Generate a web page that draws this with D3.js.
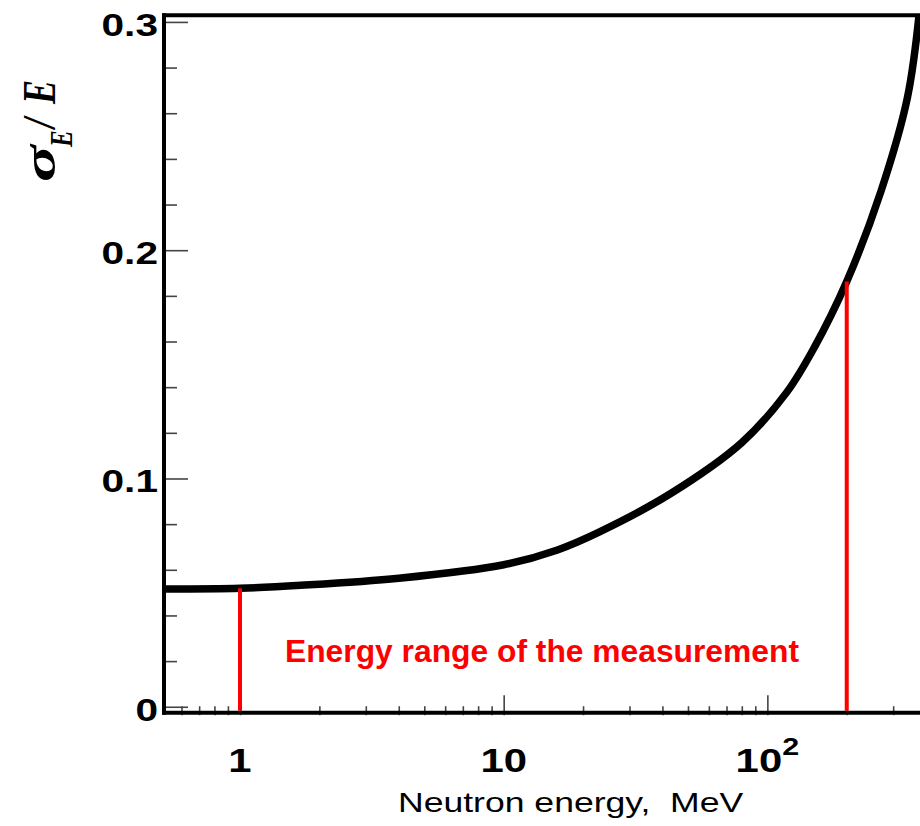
<!DOCTYPE html>
<html>
<head>
<meta charset="utf-8">
<script src="https://cdn.jsdelivr.net/npm/d3@7"></script>
<style>
  body { margin: 0; background: #fff; }
</style>
</head>
<body>
<div id="chart"></div>
<script>
// values
const energyMeV = [0.52, 1, 1.7, 4, 10, 16, 23, 43, 80, 118, 150, 200, 270, 340, 380]
const sigmaOverE = [0.0516, 0.0519, 0.0532, 0.0563, 0.0622, 0.0687, 0.0765, 0.0934, 0.1157, 0.1375, 0.1570, 0.1863, 0.2260, 0.2670, 0.3080]
const measureRange = [1, 200]

const yMajorTicks = [0, 0.1, 0.2, 0.3]
const yMinorTicks = [0.02, 0.04, 0.06, 0.08, 0.12, 0.14, 0.16, 0.18, 0.22, 0.24, 0.26, 0.28]
const yTickLabels = ['0', '0.1', '0.2', '0.3']
const xMajorTicks = [1, 10, 100]
const xMinorTicks = [0.6, 0.7, 0.8, 0.9, 2, 3, 4, 5, 6, 7, 8, 9, 20, 30, 40, 50, 60, 70, 80, 90, 200, 300, 400]

const width = 920
const height = 826
const stretch = 1.27 // the original picture is widened horizontally

const svg = d3.select('#chart').append('svg')
  .attr('xmlns', 'http://www.w3.org/2000/svg')
  .attr('width', width)
  .attr('height', height)
  .style('background', '#fff')

const x = d3.scaleLog().domain([0.515, 450]).range([164, 939.6])
const y = d3.scaleLinear().domain([-0.0026, 0.3029]).range([712.7, 15.3])

const [x0, x1] = x.range()
const [yb, yt] = y.range()

svg.append('clipPath').attr('id', 'plot-clip')
  .append('rect').attr('x', x0).attr('y', yt).attr('width', x1 - x0).attr('height', yb - yt)

// y ticks (inside, pointing right)
const tickStyle = (g) => {
  g.select('.domain').remove()
  g.selectAll('.tick line').attr('stroke', '#444').attr('stroke-width', 1.6)
  g.selectAll('.tick text').remove()
}
svg.append('g').attr('transform', `translate(${x0},0)`)
  .call(d3.axisRight(y).tickValues(yMinorTicks).tickSize(13)).call(tickStyle)
svg.append('g').attr('transform', `translate(${x0},0)`)
  .call(d3.axisRight(y).tickValues(yMajorTicks).tickSize(24)).call(tickStyle)

// x ticks (inside, pointing up)
svg.append('g').attr('transform', `translate(0,${yb + 2.5})`)
  .call(d3.axisTop(x).tickValues(xMinorTicks).tickSize(9)).call(tickStyle)
svg.append('g').attr('transform', `translate(0,${yb + 2.5})`)
  .call(d3.axisTop(x).tickValues(xMajorTicks).tickSize(20)).call(tickStyle)

// curve
const line = d3.line()
  .x((d, i) => x(energyMeV[i]))
  .y((d) => y(d))
  .curve(d3.curveCatmullRom.alpha(0.5))

svg.append('g').attr('clip-path', 'url(#plot-clip)')
  .append('path').datum(sigmaOverE)
  .attr('fill', 'none').attr('stroke', '#000').attr('stroke-width', 7.5)
  .attr('stroke-linejoin', 'round')
  .attr('d', line)

// frame
const frame = svg.append('g').attr('stroke', '#000').attr('stroke-width', 4)
frame.append('line').attr('x1', x0).attr('x2', x0).attr('y1', yt - 2).attr('y2', yb + 2)
frame.append('line').attr('x1', x0 - 2).attr('x2', x1).attr('y1', yt).attr('y2', yt)
frame.append('line').attr('x1', x0 - 2).attr('x2', x1).attr('y1', yb).attr('y2', yb)

// measurement range markers
svg.selectAll('.range-line').data(measureRange).join('line')
  .attr('class', 'range-line')
  .attr('x1', (d) => x(d)).attr('x2', (d) => x(d))
  .attr('y1', (d) => y(sigmaOverE[energyMeV.indexOf(d)]))
  .attr('y2', yb - 2)
  .attr('stroke', '#ff0000').attr('stroke-width', 4)

svg.append('text')
  .attr('x', 285).attr('y', 662)
  .attr('font-family', 'Liberation Sans, Arial, sans-serif')
  .attr('font-weight', 'bold').attr('font-size', 31)
  .attr('fill', '#ff0000')
  .attr('textLength', 514).attr('lengthAdjust', 'spacingAndGlyphs')
  .text('Energy range of the measurement')

// y tick labels
svg.selectAll('.ylab').data(yMajorTicks).join('text')
  .attr('class', 'ylab')
  .attr('transform', (d) => `translate(158,${y(d) + 14}) scale(${stretch},1)`)
  .attr('text-anchor', 'end')
  .attr('font-family', 'Liberation Sans, Arial, sans-serif')
  .attr('font-weight', 'bold').attr('font-size', 32)
  .text((d, i) => yTickLabels[i])

// x tick labels
const xlab = svg.selectAll('.xlab').data(xMajorTicks).join('text')
  .attr('class', 'xlab')
  .attr('transform', (d) => `translate(${x(d)},772) scale(${stretch},1)`)
  .attr('text-anchor', 'middle')
  .attr('font-family', 'Liberation Sans, Arial, sans-serif')
  .attr('font-weight', 'bold').attr('font-size', 33)
xlab.filter((d) => d < 100).text((d) => String(d))
const hundred = xlab.filter((d) => d === 100)
hundred.append('tspan').text('10')
hundred.append('tspan').attr('font-size', 24).attr('dy', -17).text('2')

// x axis title
svg.append('text')
  .attr('transform', `translate(398,812) scale(${stretch},1)`)
  .attr('font-family', 'Liberation Sans, Arial, sans-serif')
  .attr('font-size', 28)
  .style('white-space', 'pre')
  .text('Neutron energy,  MeV')

// y axis title: sigma_E / E
const ytitle = svg.append('text')
  .attr('transform', `translate(55,182) scale(${stretch},1) rotate(-90)`)
  .attr('font-family', 'Liberation Serif, Times New Roman, serif')
  .attr('font-weight', 'bold').attr('font-style', 'italic')
  .attr('font-size', 36)
ytitle.append('tspan').attr('x', 0).attr('y', 0).attr('textLength', 37).attr('lengthAdjust', 'spacingAndGlyphs').text('σ')
ytitle.append('tspan').attr('x', 35).attr('y', 13).attr('font-size', 25).text('E')
ytitle.append('tspan').attr('x', 54).attr('y', 0).text('/')
ytitle.append('tspan').attr('x', 78).attr('y', 0).text('E')
</script>
</body>
</html>
